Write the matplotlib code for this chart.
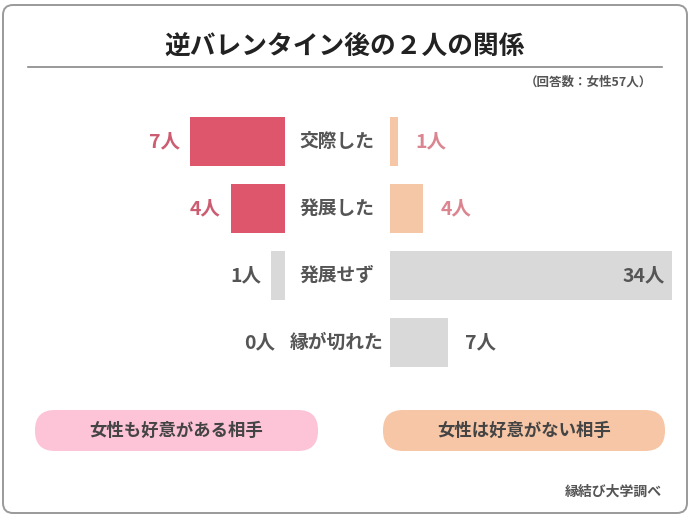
import matplotlib
matplotlib.use("Agg")
import matplotlib.pyplot as plt
from matplotlib.patches import FancyBboxPatch
from matplotlib.transforms import blended_transform_factory

plt.rcParams['font.family'] = ['Noto Sans CJK JP', 'DejaVu Sans']

# ---- data ----
title = "逆バレンタイン後の２人の関係"
subtitle = "（回答数：女性57人）"
source = "縁結び大学調べ"
categories = ["交際した", "発展した", "発展せず", "縁が切れた"]
left_values = [7, 4, 1, 0]      # 女性も好意がある相手
right_values = [1, 4, 34, 7]    # 女性は好意がない相手
left_group = "女性も好意がある相手"
right_group = "女性は好意がない相手"
unit = "人"

# ---- styles ----
W, H = 690, 523
PINK_BAR = "#DE566B"
PEACH_BAR = "#F6C7A6"
GRAY_BAR = "#D9D9D9"
PINK_TXT_L = "#CC5C72"
PINK_TXT_R = "#DA8590"
DARK_TXT = "#555555"
left_colors = [PINK_BAR, PINK_BAR, GRAY_BAR, GRAY_BAR]
right_colors = [PEACH_BAR, PEACH_BAR, GRAY_BAR, GRAY_BAR]
left_txt_colors = [PINK_TXT_L, PINK_TXT_L, DARK_TXT, DARK_TXT]
right_txt_colors = [PINK_TXT_R, PINK_TXT_R, DARK_TXT, DARK_TXT]

fig = plt.figure(figsize=(W / 100, H / 100), dpi=100)
fig.patch.set_facecolor("white")

# background axes in pixel coordinates
bg = fig.add_axes([0, 0, 1, 1])
bg.set_xlim(0, W)
bg.set_ylim(H, 0)
bg.axis("off")

bg.add_patch(FancyBboxPatch((3, 5), W - 6, 508,
                            boxstyle="round,pad=0,rounding_size=10",
                            facecolor="white", edgecolor="#9a9a9a", lw=1.4))
bg.text(345, 46, title, ha="center", va="center", fontsize=18.5,
        fontweight="bold", color="#222222")
bg.plot([28, 662], [67, 67], color="#888888", lw=1.2)
bg.text(652, 82, subtitle, ha="right", va="center", fontsize=9,
        color=DARK_TXT, fontweight="bold")

# pills
for (x0, x1, col, label) in [(35, 318, "#FCC4D6", left_group),
                             (383, 665, "#F6C6A6", right_group)]:
    bg.add_patch(FancyBboxPatch((x0, 410), x1 - x0, 41,
                                boxstyle="round,pad=0,rounding_size=20",
                                facecolor=col, edgecolor="none"))
    bg.text((x0 + x1) / 2, 431, label, ha="center", va="center",
            fontsize=12.5, fontweight="bold", color="#444444")

bg.text(662, 492, source, ha="right", va="center", fontsize=10,
        color=DARK_TXT, fontweight="bold")

# bar axes
top_px, bot_px = 108, 376
axL = fig.add_axes([150 / W, 1 - bot_px / H, 135 / W, (bot_px - top_px) / H])
axR = fig.add_axes([390 / W, 1 - bot_px / H, 282 / W, (bot_px - top_px) / H])
for ax in (axL, axR):
    ax.axis("off")
    ax.patch.set_alpha(0)
    ax.set_ylim(len(categories) - 0.5, -0.5)

ypos = list(range(len(categories)))
axL.barh(ypos, left_values, height=0.72, color=left_colors)
axL.set_xlim(max(left_values) * 135 / 95, 0)
axR.barh(ypos, right_values, height=0.72, color=right_colors)
axR.set_xlim(0, max(right_values))

VFS = 14
for y, v, c in zip(ypos, left_values, left_txt_colors):
    axL.annotate(f"{v}{unit}", (v, y), xytext=(-10, 0), textcoords="offset pixels",
                 ha="right", va="center", fontsize=VFS, fontweight="bold", color=c)

for y, v, c in zip(ypos, right_values, right_txt_colors):
    if v == max(right_values):
        axR.annotate(f"{v}{unit}", (v, y), xytext=(-7, 0), textcoords="offset pixels",
                     ha="right", va="center", fontsize=VFS, fontweight="bold", color=c)
    else:
        axR.annotate(f"{v}{unit}", (v, y), xytext=(17, 0), textcoords="offset pixels",
                     ha="left", va="center", fontsize=VFS, fontweight="bold", color=c)

tr = blended_transform_factory(fig.transFigure, axL.transData)
for y, cat in zip(ypos, categories):
    fig.text(337 / W, y, cat, transform=tr, ha="center", va="center",
             fontsize=13.5, fontweight="bold", color=DARK_TXT)

fig.savefig("out.png", dpi=100, facecolor="white")
